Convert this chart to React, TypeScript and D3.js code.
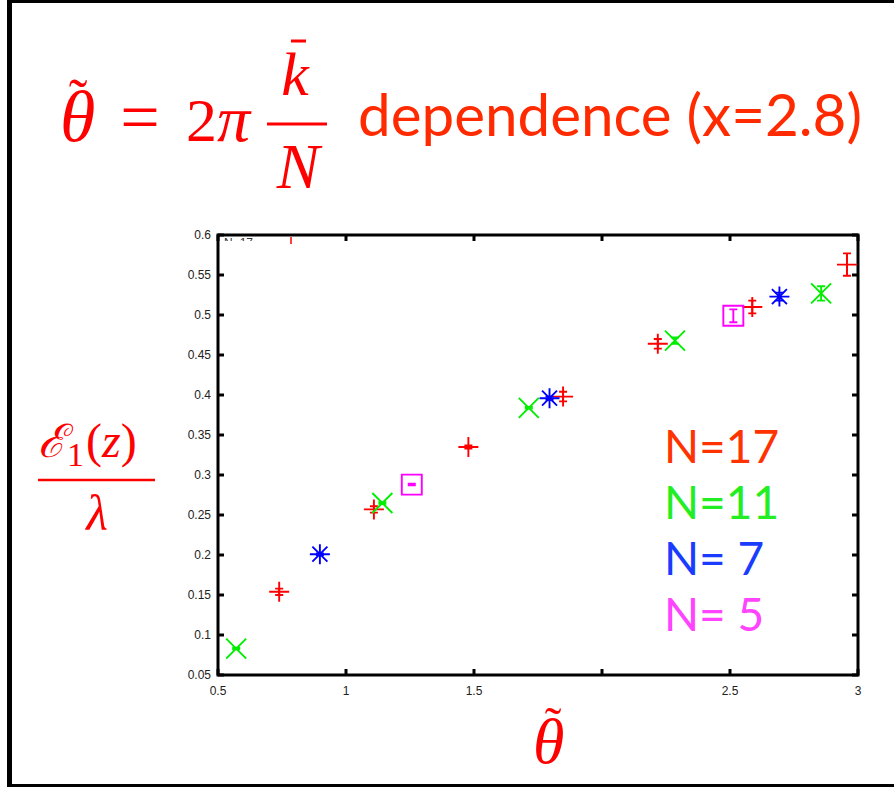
import React, { useEffect } from "react";
import * as d3 from "d3";

// Ground-state energy vs. twisted momentum, grouped by ring size N
const theta17 = [0.739, 1.109, 1.478, 1.848, 2.218, 2.587, 2.957];
const energy17 = [0.154, 0.257, 0.335, 0.398, 0.464, 0.51, 0.563];
const err17 = [0.004, 0.004, 0.002, 0.006, 0.006, 0.008, 0.014];

const theta11 = [0.571, 1.142, 1.714, 2.285, 2.856];
const energy11 = [0.083, 0.265, 0.384, 0.468, 0.527];
const err11 = [0.001, 0.001, 0.001, 0.004, 0.009];

const theta7 = [0.898, 1.795, 2.693];
const energy7 = [0.201, 0.396, 0.523];
const err7 = [0.001, 0.002, 0.005];

const theta5 = [1.257, 2.513];
const energy5 = [0.288, 0.499];
const err5 = [0.001, 0.008];

const xTicks = [0.5, 1, 1.5, 2, 2.5, 3];
const yTicks = [0.05, 0.1, 0.15, 0.2, 0.25, 0.3, 0.35, 0.4, 0.45, 0.5, 0.55, 0.6];
const legendLabels = ["N=17", "N=11", "N= 7", "N= 5"];

const W = 894;
const H = 787;
const plot = { left: 218, right: 858, top: 235, bottom: 675 };

const x = d3.scaleLinear().domain([0.5, 3]).range([plot.left, plot.right]);
const y = d3.scaleLinear().domain([0.05, 0.6]).range([plot.bottom, plot.top]);

type Kind = "plus" | "cross" | "star" | "box";

const series: { kind: Kind; color: string; xs: number[]; ys: number[]; es: number[] }[] = [
  { kind: "plus", color: "#ff0000", xs: theta17, ys: energy17, es: err17 },
  { kind: "cross", color: "#00ee00", xs: theta11, ys: energy11, es: err11 },
  { kind: "star", color: "#0000ff", xs: theta7, ys: energy7, es: err7 },
  { kind: "box", color: "#ff00ff", xs: theta5, ys: energy5, es: err5 },
];

const legendColors = ["#ff3300", "#22ee22", "#1a3cff", "#ff44ff"];

function markerPath(kind: Kind, cx: number, cy: number): string {
  const a = 10;
  const p = d3.path();
  if (kind === "plus" || kind === "star") {
    p.moveTo(cx - a, cy);
    p.lineTo(cx + a, cy);
    p.moveTo(cx, cy - a);
    p.lineTo(cx, cy + a);
  }
  if (kind === "cross" || kind === "star") {
    const d = kind === "star" ? 7.5 : 10;
    p.moveTo(cx - d, cy - d);
    p.lineTo(cx + d, cy + d);
    p.moveTo(cx - d, cy + d);
    p.lineTo(cx + d, cy - d);
  }
  if (kind === "box") {
    p.rect(cx - 10, cy - 10, 20, 20);
  }
  return p.toString();
}

function errorPath(cx: number, v: number, e: number): string {
  const p = d3.path();
  const y0 = y(v - e);
  const y1 = y(v + e);
  const cap = 4;
  p.moveTo(cx, y0);
  p.lineTo(cx, y1);
  p.moveTo(cx - cap, y0);
  p.lineTo(cx + cap, y0);
  p.moveTo(cx - cap, y1);
  p.lineTo(cx + cap, y1);
  return p.toString();
}

const serif = "'Liberation Serif', 'DejaVu Serif', serif";
const sans = "Lato, 'Open Sans', sans-serif";
const tickFont = "'Liberation Sans', Arial, sans-serif";

export default function App() {
  useEffect(() => {
    document.body.style.margin = "0";
  }, []);

  const tickLen = 6;

  return (
    <svg
      width={W}
      height={H}
      viewBox={`0 0 ${W} ${H}`}
      style={{ position: "absolute", left: 0, top: 0, background: "#fff" }}
    >
      <defs>
        <clipPath id="keyClip">
          <rect x={plot.left} y={plot.top} width={120} height={6} />
        </clipPath>
        <clipPath id="twoClip">
          <rect x={x(2) - 10} y={plot.bottom + 6} width={20} height={5} />
        </clipPath>
      </defs>
      <rect width={W} height={H} fill="#fff" />

      {/* slide border */}
      <line x1={9.5} y1={0} x2={9.5} y2={H} stroke="#000" strokeWidth={5} />
      <line x1={7} y1={1.5} x2={W} y2={1.5} stroke="#000" strokeWidth={3} />
      <line x1={7} y1={785.5} x2={W} y2={785.5} stroke="#000" strokeWidth={3} />

      {/* title formula */}
      <g fill="#ff0000" fontFamily={serif}>
        <text x={60} y={141} fontSize={72} fontStyle="italic">
          θ
          <tspan x={68.7} y={118} fontSize={56} fontStyle="normal">˜</tspan>
        </text>
        <text x={140} y={141} fontSize={70} textAnchor="middle">=</text>
        <text x={186} y={141} fontSize={62}>
          2<tspan fontSize={66} fontStyle="italic">π</tspan>
        </text>
        <line x1={267} y1={124} x2={327} y2={124} stroke="#ff0000" strokeWidth={3} />
        <text x={295} y={95} fontSize={62} fontStyle="italic" textAnchor="middle">k</text>
        <line x1={291} y1={41} x2={306} y2={41} stroke="#ff0000" strokeWidth={3} />
        <text x={298} y={188} fontSize={64} fontStyle="italic" textAnchor="middle">N</text>
      </g>
      <text
        x={358}
        y={136}
        fontSize={58}
        fontFamily={sans}
        fill="#ff2a00"
        textLength={504}
        lengthAdjust="spacingAndGlyphs"
      >
        dependence (x=2.8)
      </text>

      {/* y-axis label */}
      <g fill="#ff0000" fontFamily={serif}>
        <text x={38} y={457} fontSize={46} fontStyle="italic">ℰ</text>
        <text x={67} y={466} fontSize={34}>1</text>
        <text x={86} y={457} fontSize={48}>
          (<tspan fontStyle="italic">z</tspan>)
        </text>
        <line x1={38} y1={480} x2={155} y2={480} stroke="#ff0000" strokeWidth={2.5} />
        <text x={97} y={530} fontSize={50} fontStyle="italic" textAnchor="middle">λ</text>
      </g>

      {/* x-axis label */}
      <g fill="#ff0000" fontFamily={serif}>
        <text x={533} y={763} fontSize={64} fontStyle="italic">
          θ
          <tspan x={544.7} y={742} fontSize={50} fontStyle="normal">˜</tspan>
        </text>
      </g>

      {/* key remnant at top of plot */}
      <g clipPath="url(#keyClip)">
        <text x={224} y={247} fontSize={12} fontFamily={tickFont} fill="#333">N=17</text>
      </g>
      <line x1={291} y1={237} x2={291} y2={244} stroke="#ff0000" strokeWidth={1.5} />

      {/* ticks */}
      <g stroke="#000" strokeWidth={3}>
        {yTicks.map((t) => (
          <g key={`y${t}`}>
            <line x1={plot.left} x2={plot.left + tickLen} y1={y(t)} y2={y(t)} />
            <line x1={plot.right} x2={plot.right - tickLen} y1={y(t)} y2={y(t)} />
          </g>
        ))}
        {xTicks.map((t) => (
          <g key={`x${t}`}>
            <line x1={x(t)} x2={x(t)} y1={plot.bottom} y2={plot.bottom - tickLen} />
            <line x1={x(t)} x2={x(t)} y1={plot.top} y2={plot.top + tickLen} />
          </g>
        ))}
      </g>
      <rect
        x={plot.left}
        y={plot.top}
        width={plot.right - plot.left}
        height={plot.bottom - plot.top}
        fill="none"
        stroke="#000"
        strokeWidth={3}
      />

      {/* tick labels */}
      <g fontFamily={tickFont} fontSize={12} fill="#222">
        {yTicks.map((t) => (
          <text key={`yl${t}`} x={plot.left - 7} y={y(t) + 4} textAnchor="end">
            {d3.format("~g")(t)}
          </text>
        ))}
        {xTicks.map((t) =>
          t === 2 ? (
            <g key={`xl${t}`} clipPath="url(#twoClip)">
              <text x={x(t)} y={plot.bottom + 20} textAnchor="middle">2</text>
            </g>
          ) : (
            <text key={`xl${t}`} x={x(t)} y={plot.bottom + 20} textAnchor="middle">
              {d3.format("~g")(t)}
            </text>
          )
        )}
      </g>

      {/* data */}
      {series.map((s, si) => (
        <g key={si} stroke={s.color} strokeWidth={1.9} fill="none">
          {s.xs.map((tv, i) => (
            <g key={i}>
              <path d={errorPath(x(tv), s.ys[i], s.es[i])} />
              <path d={markerPath(s.kind, x(tv), y(s.ys[i]))} />
            </g>
          ))}
        </g>
      ))}

      {/* legend */}
      <g fontFamily={sans} fontSize={46}>
        {legendLabels.map((lab, i) => (
          <text key={lab} x={664} y={463 + i * 56} fill={legendColors[i]}>
            {lab}
          </text>
        ))}
      </g>
    </svg>
  );
}
